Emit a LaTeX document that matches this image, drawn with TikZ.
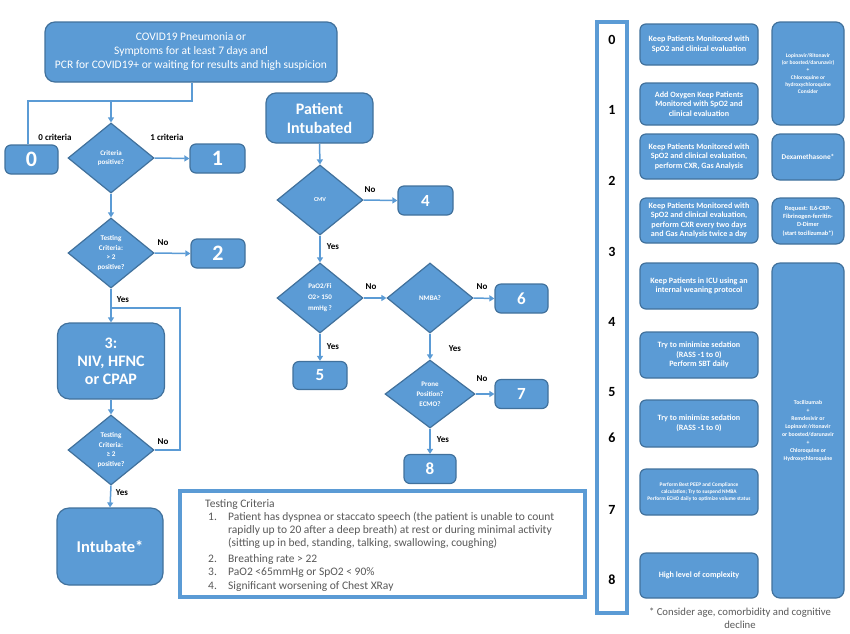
\documentclass[tikz,border=0pt]{standalone}
\usepackage{fontspec}
\setmainfont{Carlito}
\usetikzlibrary{positioning,shapes.geometric,arrows.meta}

\definecolor{boxblue}{HTML}{5B9BD5}
\definecolor{edgeblue}{HTML}{41719C}
\definecolor{textgray}{HTML}{595959}
\newcommand{\setfs}[2]{\fontsize{#1}{#2}\selectfont}

\begin{document}
\begin{tikzpicture}[x=1pt, y=-1pt,
    box/.style={draw=edgeblue, fill=boxblue, line width=1.2pt,
        rounded corners=6pt, text=white, align=center, inner sep=0pt},
    decision/.style={diamond, draw=edgeblue, fill=boxblue, line width=1.2pt,
        text=white, align=center, inner sep=0pt,
        minimum width=86pt, minimum height=70pt},
    flow/.style={draw=boxblue, line width=1.5pt, -{Triangle[width=6pt,length=5pt]}},
    loopline/.style={draw=boxblue, line width=1.5pt},
    lbl/.style={font=\bfseries\setfs{9}{10}, text=black},
    framebox/.style={draw=boxblue, fill=white},
    lvl/.style={font=\bfseries\setfs{14}{16}, text=black}]

    \useasboundingbox (0,0) rectangle (850,633);

    % left flow
    \node[
        box,
        rounded corners=10pt,
        minimum width=292pt,
        minimum height=60pt,
        font=\setfs{11.5}{14}
    ](start) at (191,52){COVID19 Pneumonia or\\Symptoms for at least 7 days and\\PCR for COVID19+ or waiting for results and high suspicion};

    \node[box, minimum width=53pt, minimum height=29pt, font=\bfseries\setfs{22}{24}](s0) at (31.5,159.5){0};
    \node[decision, font=\bfseries\setfs{7}{9.5}](crit1) at (111,158){Criteria\\positive?};
    \node[box, minimum width=55pt, minimum height=29pt, font=\bfseries\setfs{22}{24}](s1) at (217.5,158.5){1};

    \node[decision, font=\bfseries\setfs{7.2}{9.7}](crit2) at (111,253){Testing\\Criteria:\\> 2\\positive?};
    \node[box, minimum width=54pt, minimum height=29pt, font=\bfseries\setfs{22}{24}](s2) at (218,253.5){2};

    \node[
        box,
        rounded corners=12pt,
        minimum width=107pt,
        minimum height=76pt,
        font=\bfseries\setfs{16}{18}
    ](s3) at (111,361){3:\\NIV, HFNC\\or CPAP};

    \node[decision, font=\bfseries\setfs{7.2}{9.7}](crit3) at (111,450){Testing\\Criteria:\\≥ 2\\positive?};

    \node[
        box,
        rounded corners=12pt,
        minimum width=106pt,
        minimum height=77pt,
        font=\bfseries\setfs{16.5}{18}
    ](intubate) at (110,546.5){Intubate*};

    \coordinate (split) at (192,101);
    \coordinate (leftturn) at (28,101);
    \coordinate (backloop) at (180,308);

    \draw [loopline](start.south -| split) -- (split) -- (leftturn) -- (leftturn |- s0.north);
    \draw [flow](crit1.north |- split) -- (crit1.north);
    \draw [flow](crit1.east) -- (s1.west);
    \draw [flow](crit1.south) -- (crit2.north);
    \draw [flow](crit2.east) -- (s2.west);
    \draw [flow](crit2.south) -- (s3.north);
    \draw [loopline](crit3.east) -| (backloop) -- (backloop -| s3.north);
    \draw [flow](s3.south) -- (crit3.north);
    \draw [flow](crit3.south) -- (intubate.north);

    \node[lbl](l0crit) at (55,137){0 criteria};
    \node[lbl](l1crit) at (167,137){1 criteria};
    \node[lbl](lno2) at (163,243){No};
    \node[lbl](lyes2) at (123,300){Yes};
    \node[lbl](lno3) at (163,442){No};
    \node[lbl](lyes3) at (122,493){Yes};

    % intubated flow
    \node[
        box,
        rounded corners=10pt,
        minimum width=107pt,
        minimum height=50pt,
        font=\bfseries\setfs{16}{19}
    ](intub) at (319.5,118){Patient\\Intubated};

    \node[decision, font=\bfseries\setfs{6}{8}](cmv) at (320,200){CMV};
    \node[box, minimum width=55pt, minimum height=29pt, font=\bfseries\setfs{17}{19}](s4) at (425.5,200.5){4};
    \node[decision, font=\bfseries\setfs{7}{11}](pao) at (320,298){PaO2/Fi\\O2> 150\\mmHg ?};
    \node[decision, font=\bfseries\setfs{7}{9}](nmba) at (430,298){NMBA?};
    \node[box, minimum width=53pt, minimum height=29pt, font=\bfseries\setfs{17}{19}](s6) at (521.5,298.5){6};
    \node[box, minimum width=54pt, minimum height=28pt, font=\bfseries\setfs{17}{19}](s5) at (320,375.5){5};
    \node[decision, minimum width=90pt, minimum height=68pt, font=\bfseries\setfs{7}{10}](prone) at (430,394){Prone\\Position?\\ECMO?};
    \node[box, minimum width=53pt, minimum height=29pt, font=\bfseries\setfs{17}{19}](s7) at (521.5,394){7};
    \node[box, minimum width=52pt, minimum height=29pt, font=\bfseries\setfs{17}{19}](s8) at (430,469){8};

    \draw [flow](intub.south) -- (cmv.north);
    \draw [flow](cmv.east) -- (s4.west);
    \draw [flow](cmv.south) -- (pao.north);
    \draw [flow](pao.east) -- (nmba.west);
    \draw [flow](nmba.east) -- (s6.west);
    \draw [flow](pao.south) -- (s5.north);
    \draw [flow](nmba.south) -- (prone.north);
    \draw [flow](prone.east) -- (s7.west);
    \draw [flow](prone.south) -- (s8.north);

    \node[lbl](lnocmv) at (370,190){No};
    \node[lbl](lyescmv) at (333,247){Yes};
    \node[lbl](lnopao) at (371,287){No};
    \node[lbl](lnonmba) at (482,287){No};
    \node[lbl](lyespao) at (333,347){Yes};
    \node[lbl](lyesnmba) at (455,349){Yes};
    \node[lbl](lnoprone) at (482,379){No};
    \node[lbl](lyesprone) at (443,440){Yes};

    % testing criteria
    \node[
        framebox,
        line width=3.5pt,
        minimum width=405pt,
        minimum height=106pt
    ](critbox) at (382.5,544){};

    \node[
        anchor=north west,
        inner sep=0pt,
        align=left,
        text=textgray,
        font=\setfs{11.5}{13}
    ](crittext) at (205,499){Testing Criteria\\
        \hspace*{3pt}\makebox[20pt][l]{1.}Patient has dyspnea or staccato speech (the patient is unable to count\\
        \hspace*{23pt}rapidly up to 20 after a deep breath) at rest or during minimal activity\\
        \hspace*{23pt}(sitting up in bed, standing, talking, swallowing, coughing)\\[3pt]
        \hspace*{3pt}\makebox[20pt][l]{2.}Breathing rate > 22\\
        \hspace*{3pt}\makebox[20pt][l]{3.}PaO2 <65mmHg or SpO2 < 90\%\\[1pt]
        \hspace*{3pt}\makebox[20pt][l]{4.}Significant worsening of Chest XRay};

    % levels
    \node[
        framebox,
        line width=4pt,
        minimum width=30pt,
        minimum height=591pt
    ](levels) at (612,317.5){};

    \foreach \n/\y in {0/40, 1/110, 2/181, 3/252, 4/322, 5/392, 6/438, 7/510, 8/580}
        \node[lvl](lv\n) at (612,\y){\n};

    \tikzset{mid/.style={box, minimum width=118pt, font=\bfseries\setfs{8.1}{9.5}},
        side/.style={box, minimum width=72pt, rounded corners=8pt}}

    \node[mid, minimum height=41pt](m0) at (699,44.5){Keep Patients Monitored with\\SpO2 and clinical evaluation};
    \node[mid, minimum height=42pt](m1) at (699,104){Add Oxygen Keep Patients\\Monitored with SpO2 and\\clinical evaluation};
    \node[mid, minimum height=45pt](m2) at (699,156.5){Keep Patients Monitored with\\SpO2 and clinical evaluation,\\perform CXR, Gas Analysis};
    \node[mid, minimum height=45pt](m3) at (699,220.5){Keep Patients Monitored with\\SpO2 and clinical evaluation,\\perform CXR every two days\\and Gas Analysis twice a day};
    \node[mid, minimum height=46pt](m4) at (699,286){Keep Patients in ICU using an\\internal weaning protocol};
    \node[mid, minimum height=46pt](m5) at (699,355){Try to minimize sedation\\(RASS -1 to 0)\\Perform SBT daily};
    \node[mid, minimum height=47pt](m6) at (699,423.5){Try to minimize sedation\\(RASS -1 to 0)};
    \node[mid, minimum height=46pt, font=\bfseries\setfs{5.4}{7.2}](m7) at (699,492){Perform Best PEEP and Compliance\\calculation; Try to suspend NMBA\\Perform ECHO daily to optimize volume status};
    \node[mid, minimum height=45pt](m8) at (699,575.5){High level of complexity};

    \node[side, minimum height=103pt, font=\bfseries\setfs{5.5}{7.2}](r1) at (808,73.5){Lopinavir/Ritonavir\\(or boosted/darunavir)\\+\\Chloroquine or\\hydroxychloroquine\\Consider};
    \node[side, minimum height=46pt, font=\bfseries\setfs{7.3}{8}](r2) at (808,157){Dexamethasone*};
    \node[side, minimum height=46pt, font=\bfseries\setfs{6.3}{8.3}](r3) at (808,221){Request: IL6-CRP-\\Fibrinogen-ferritin-\\D-Dimer\\(start tocilizumab*)};
    \node[side, minimum height=335pt, font=\bfseries\setfs{5.8}{8}](r4) at (808,430.5){Tocilizumab\\+\\Remdesivir or\\Lopinavir/ritonavir\\or boosted/darunavir\\+\\Chloroquine or\\Hydroxychloroquine};

    \node[
        align=center,
        text=textgray,
        font=\setfs{10.7}{13}
    ](note) at (740,618.5){* Consider age, comorbidity and cognitive\\decline};
\end{tikzpicture}
\end{document}
